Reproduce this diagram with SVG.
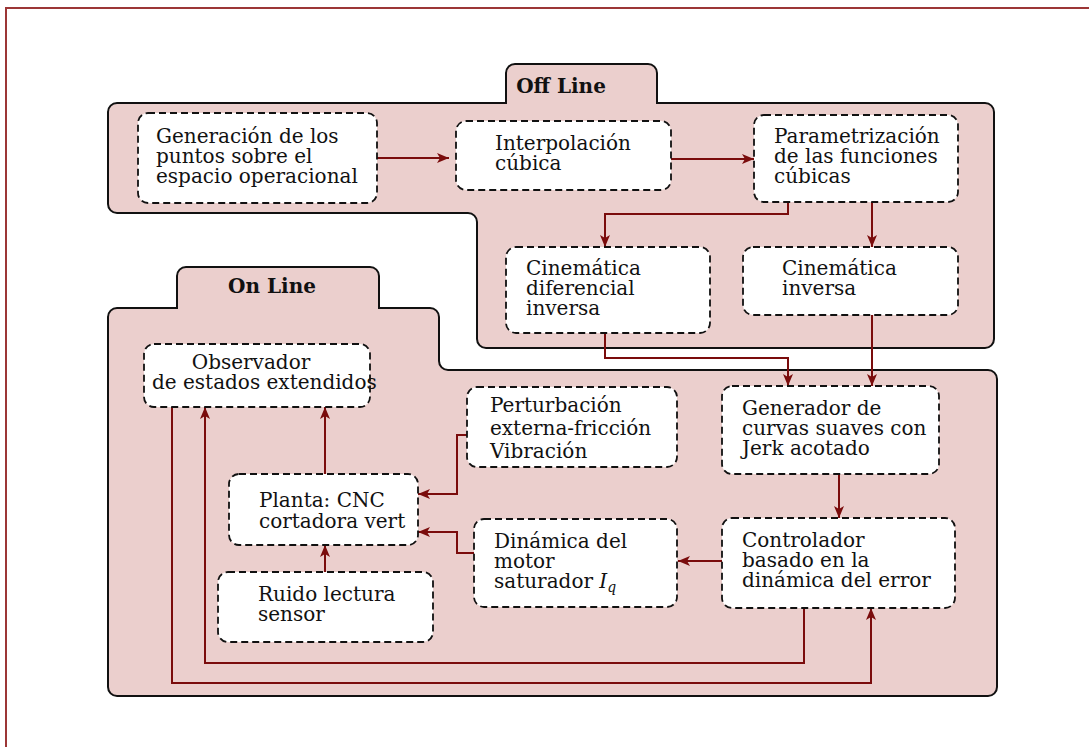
<svg xmlns="http://www.w3.org/2000/svg" width="1089" height="747" viewBox="0 0 1089 747">
<style>
.frame{fill:none;stroke:#9c3636;stroke-width:2}
.region{fill:#ebcfcd;stroke:#111;stroke-width:2}
.node{fill:#fff;stroke:#111;stroke-width:1.8;stroke-dasharray:7 4}
.t{font-family:"DejaVu Serif","Liberation Serif",serif;font-size:20px;fill:#111}
.lbl{font-family:"DejaVu Serif","Liberation Serif",serif;font-size:20px;font-weight:bold;fill:#111}
.c{fill:none;stroke:#7a0c0c;stroke-width:2;marker-end:url(#arr)}
</style>
<defs>
<marker id="arr" viewBox="0 0 12 10" refX="12" refY="5" markerWidth="12" markerHeight="10" markerUnits="userSpaceOnUse" orient="auto">
<path d="M0,0 L12,5 L0,10 L3,5 Z" fill="#7a0c0c"/>
</marker>
</defs>
<rect width="1089" height="747" fill="#fff"/>
<path class="frame" d="M6,747 L6,8 L1089,8"/>

<g id="offline">
<path class="region" d="M108,112 A9,9 0 0 1 117,103 L506,103 L506,73 A9,9 0 0 1 515,64 L648,64 A9,9 0 0 1 657,73 L657,103 L985,103 A9,9 0 0 1 994,112 L994,339 A9,9 0 0 1 985,348 L486,348 A9,9 0 0 1 477,339 L477,222 A9,9 0 0 0 468,213 L117,213 A9,9 0 0 1 108,204 Z"/>
<text class="lbl" x="561" y="93" text-anchor="middle">Off Line</text>
</g>
<g id="online">
<path class="region" d="M108,317 A9,9 0 0 1 117,308 L177,308 L177,276 A9,9 0 0 1 186,267 L370,267 A9,9 0 0 1 379,276 L379,308 L430,308 A9,9 0 0 1 439,317 L439,361 A9,9 0 0 0 448,370 L988,370 A9,9 0 0 1 997,379 L997,687 A9,9 0 0 1 988,696 L117,696 A9,9 0 0 1 108,687 Z"/>
<text class="lbl" x="272" y="293" text-anchor="middle">On Line</text>
</g>

<g id="connectors">
<path class="c" d="M377,158 L449,158"/>
<path class="c" d="M671,159 L754,159"/>
<path class="c" d="M788,202 L788,214 L605,214 L605,247"/>
<path class="c" d="M872,202 L872,247"/>
<path class="c" d="M605,333 L605,358 L788,358 L788,386"/>
<path class="c" d="M872,315 L872,386"/>
<path class="c" d="M839,474 L839,518"/>
<path class="c" d="M722,561 L678,561"/>
<path class="c" d="M474,553 L457,553 L457,532 L418,532"/>
<path class="c" d="M467,435 L457,435 L457,494 L418,494"/>
<path class="c" d="M325,474 L325,407"/>
<path class="c" d="M325,572 L325,545"/>
<path class="c" d="M172,407 L172,683 L871,683 L871,608"/>
<path class="c" d="M804,608 L804,663 L205,663 L205,407"/>
</g>

<g id="n-generacion">
<rect class="node" x="138" y="113" width="239" height="90" rx="10"/>
<text class="t" x="156" y="143">Generación de los</text>
<text class="t" x="156" y="163">puntos sobre el</text>
<text class="t" x="156" y="183">espacio operacional</text>
</g>
<g id="n-interpolacion">
<rect class="node" x="456" y="121" width="215" height="69" rx="10"/>
<text class="t" x="495" y="150">Interpolación</text>
<text class="t" x="495" y="170">cúbica</text>
</g>
<g id="n-parametrizacion">
<rect class="node" x="754" y="115" width="204" height="87" rx="10"/>
<text class="t" x="774" y="143">Parametrización</text>
<text class="t" x="774" y="163">de las funciones</text>
<text class="t" x="774" y="183">cúbicas</text>
</g>
<g id="n-cindif">
<rect class="node" x="506" y="247" width="204" height="86" rx="10"/>
<text class="t" x="526" y="275">Cinemática</text>
<text class="t" x="526" y="295">diferencial</text>
<text class="t" x="526" y="315">inversa</text>
</g>
<g id="n-cininv">
<rect class="node" x="743" y="247" width="215" height="68" rx="10"/>
<text class="t" x="782" y="275">Cinemática</text>
<text class="t" x="782" y="295">inversa</text>
</g>
<g id="n-observador">
<rect class="node" x="144" y="344" width="226" height="63" rx="10"/>
<text class="t" x="251" y="369" text-anchor="middle">Observador</text>
<text class="t" x="152" y="389">de estados extendidos</text>
</g>
<g id="n-perturbacion">
<rect class="node" x="467" y="387" width="210" height="80" rx="10"/>
<text class="t" x="490" y="412">Perturbación</text>
<text class="t" x="490" y="435">externa-fricción</text>
<text class="t" x="490" y="458">Vibración</text>
</g>
<g id="n-generador">
<rect class="node" x="722" y="386" width="217" height="88" rx="10"/>
<text class="t" x="742" y="415">Generador de</text>
<text class="t" x="742" y="435">curvas suaves con</text>
<text class="t" x="742" y="455">Jerk acotado</text>
</g>
<g id="n-planta">
<rect class="node" x="229" y="474" width="189" height="71" rx="10"/>
<text class="t" x="259" y="507">Planta: CNC</text>
<text class="t" x="259" y="528">cortadora vert</text>
</g>
<g id="n-dinamica">
<rect class="node" x="474" y="519" width="203" height="88" rx="10"/>
<text class="t" x="494" y="548">Dinámica del</text>
<text class="t" x="494" y="568">motor</text>
<text class="t" x="494" y="588">saturador <tspan font-style="italic">I</tspan><tspan font-style="italic" font-size="14" dy="4">q</tspan></text>
</g>
<g id="n-controlador">
<rect class="node" x="722" y="518" width="233" height="90" rx="10"/>
<text class="t" x="742" y="547">Controlador</text>
<text class="t" x="742" y="567">basado en la</text>
<text class="t" x="742" y="587">dinámica del error</text>
</g>
<g id="n-ruido">
<rect class="node" x="218" y="572" width="215" height="70" rx="10"/>
<text class="t" x="258" y="601">Ruido lectura</text>
<text class="t" x="258" y="621">sensor</text>
</g>
</svg>
